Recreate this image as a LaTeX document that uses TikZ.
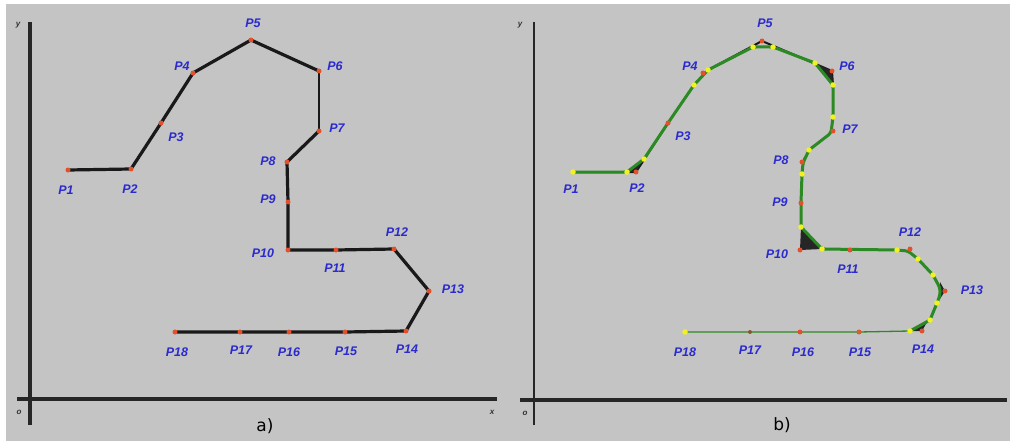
\documentclass[tikz,border=0pt]{standalone}
\usepackage{fontspec}
\newfontfamily\labfont{Liberation Sans}
\newfontfamily\capfont{DejaVu Sans}
\definecolor{bggray}{HTML}{C4C4C4}
\definecolor{labblue}{HTML}{2A2ACF}
\definecolor{ptred}{HTML}{E2502E}
\definecolor{curvegreen}{HTML}{2C8A24}
\definecolor{ptyellow}{HTML}{F2F222}
\tikzset{
  lab/.style={text=labblue,font=\labfont\bfseries\itshape\fontsize{12.5}{12.5}\selectfont,inner sep=0pt},
  axlab/.style={text=black!80,font=\labfont\bfseries\itshape\fontsize{8}{8}\selectfont,inner sep=0pt},
  caption/.style={font=\capfont\fontsize{17}{17}\selectfont,inner sep=0pt},
  axis/.style={line width=3.2pt,black!85},
  thinaxis/.style={line width=1.8pt,black!85},
  poly/.style={line width=3.2pt,black!90,line join=round},
  thinpoly/.style={line width=1.8pt,black!90},
  greencurve/.style={line width=3pt,curvegreen,rounded corners=3pt,line join=round},
  thingreen/.style={line width=1.3pt,curvegreen},
  rdot/.style={circle,fill=ptred,inner sep=0pt,minimum size=5pt},
  ydot/.style={circle,fill=ptyellow,inner sep=0pt,minimum size=5.5pt}
}
\begin{document}
\begin{tikzpicture}[x=1pt,y=-1pt]
\useasboundingbox (0,0) rectangle (1010,444);
\fill[white] (0,0) rectangle (1010,444);
\fill[bggray] (6,4) rectangle (1010,441);

% ---------------- panel a ----------------
\coordinate (ay0) at (30,425); \coordinate (ay1) at (30,22);
\coordinate (ax0) at (17,399); \coordinate (ax1) at (497,399);
\draw[axis] (ay0) -- (ay1);
\draw[axis] (ax0) -- (ax1);
\node[axlab] (aylab) at (18,25) {y};
\node[axlab] (axlab) at (492,412) {x};
\node[axlab] (aolab) at (19,412) {o};
\node[caption] (capa) at (265,426) {a)};

\coordinate (a1) at (68,170);
\coordinate (a2) at (131,169);
\coordinate (a3) at (161,123);
\coordinate (a4) at (193,73);
\coordinate (a5) at (251,40);
\coordinate (a6) at (319,71);
\coordinate (a7) at (319,131);
\coordinate (a8) at (287,162);
\coordinate (a9) at (288,202);
\coordinate (a10) at (288,250);
\coordinate (a11) at (336,250);
\coordinate (a12) at (394,249);
\coordinate (a13) at (429,291);
\coordinate (a14) at (406,331);
\coordinate (a15) at (345,332);
\coordinate (a16) at (289,332);
\coordinate (a17) at (240,332);
\coordinate (a18) at (175,332);

\draw[poly] (a1) -- (a2) -- (a3) -- (a4) -- (a5) -- (a6);
\draw[thinpoly] (a6) -- (a7);
\draw[poly] (a7) -- (a8) -- (a9) -- (a10) -- (a11) -- (a12) -- (a13) -- (a14) -- (a15) -- (a16) -- (a17) -- (a18);
\foreach \i in {1,...,18} {\node[rdot] (ad\i) at (a\i) {};}

\node[lab] (la1) at (66,190) {P1};
\node[lab] (la2) at (130,189) {P2};
\node[lab] (la3) at (176,137) {P3};
\node[lab] (la4) at (182,66) {P4};
\node[lab] (la5) at (253,23) {P5};
\node[lab] (la6) at (335,66) {P6};
\node[lab] (la7) at (337,128) {P7};
\node[lab] (la8) at (268,161) {P8};
\node[lab] (la9) at (268,199) {P9};
\node[lab] (la10) at (263,253) {P10};
\node[lab] (la11) at (335,268) {P11};
\node[lab] (la12) at (397,232) {P12};
\node[lab] (la13) at (453,289) {P13};
\node[lab] (la14) at (407,349) {P14};
\node[lab] (la15) at (346,351) {P15};
\node[lab] (la16) at (289,352) {P16};
\node[lab] (la17) at (241,350) {P17};
\node[lab] (la18) at (177,352) {P18};

% ---------------- panel b ----------------
\coordinate (by0) at (534,425); \coordinate (by1) at (534,22);
\coordinate (bx0) at (520,400); \coordinate (bx1) at (1007,400);
\draw[thinaxis] (by0) -- (by1);
\draw[axis] (bx0) -- (bx1);
\node[axlab] (bylab) at (520,25) {y};
\node[axlab] (bolab) at (525,413) {o};
\node[caption] (capb) at (782,425) {b)};

\coordinate (b1) at (573,172);
\coordinate (b2) at (636,172);
\coordinate (b3) at (668,123);
\coordinate (b4) at (703,73);
\coordinate (b5) at (762,41);
\coordinate (b6) at (832,71);
\coordinate (b7) at (833,131);
\coordinate (b8) at (802,162);
\coordinate (b9) at (801,203);
\coordinate (b10) at (800,250);
\coordinate (b11) at (850,250);
\coordinate (b12) at (910,249);
\coordinate (b13) at (945,291);
\coordinate (b14) at (922,331);
\coordinate (b15) at (859,332);
\coordinate (b16) at (800,332);
\coordinate (b17) at (750,332);
\coordinate (b18) at (685,332);

% yellow (smoothing) points
\coordinate (y1) at (573,172);
\coordinate (y2) at (627,172);
\coordinate (y3) at (644,159);
\coordinate (y4) at (694,85);
\coordinate (y5) at (708,70);
\coordinate (y6) at (753,47);
\coordinate (y7) at (773,47);
\coordinate (y8) at (815,63);
\coordinate (y9) at (833,85);
\coordinate (y10) at (833,117);
\coordinate (y11) at (809,150);
\coordinate (y12) at (802,174);
\coordinate (y13) at (801,227);
\coordinate (y14) at (822,249);
\coordinate (y15) at (897,250);
\coordinate (y16) at (918,259);
\coordinate (y17) at (933,275);
\coordinate (y18) at (937,303);
\coordinate (y19) at (930,320);
\coordinate (y20) at (910,331);
\coordinate (y21) at (685,332);

% original polygon beneath (only visible at the corners)
\draw[poly,line width=2pt] (b1) -- (b2) -- (b3);
\draw[poly,line width=2pt] (y5) -- (b5) -- (b6) -- (y9);
\fill[black!85] (y13) -- (b10) -- (y14) -- cycle;
\fill[black!85] (y2) -- (b2) -- (y3) -- cycle;
\fill[black!85] (940,282) -- (b13) -- (940,299) -- cycle;
\fill[black!85] (y8) -- (b6) -- (y9) -- cycle;
\fill[black!85] (y20) -- (b14) -- (927,322) -- cycle;
\fill[black!85] (804,157) -- (b8) -- (802,168) -- cycle;

% smoothed green curve
\draw[greencurve] (y1) -- (y2) -- (y3) -- (b3) -- (y4) -- (y5) -- (y6) -- (y7) -- (y8) -- (y9) -- (y10) -- (831,133) -- (y11) -- (803,163) -- (y12) -- (b9) -- (y13) -- (y14) -- (y15)
  -- (908,251) -- (y16) -- (y17) -- (940,288) -- (940,295) -- (y18) -- (y19) -- (y20);
\draw[thingreen] (y20) -- (b15) -- (b16) -- (b17) -- (y21);

\foreach \i in {2,...,16} {\node[rdot] (bd\i) at (b\i) {};}
\foreach \i in {1,...,21} {\node[ydot] (yd\i) at (y\i) {};}
\node[rdot,fill=brown!70!black,minimum size=4pt] (bd17) at (b17) {};
\node[rdot,fill=brown!80!red,minimum size=4pt] (bd15x) at (b15) {};

\node[lab] (lb1) at (571,189) {P1};
\node[lab] (lb2) at (637,188) {P2};
\node[lab] (lb3) at (683,136) {P3};
\node[lab] (lb4) at (690,66) {P4};
\node[lab] (lb5) at (765,23) {P5};
\node[lab] (lb6) at (847,66) {P6};
\node[lab] (lb7) at (850,129) {P7};
\node[lab] (lb8) at (781,160) {P8};
\node[lab] (lb9) at (780,202) {P9};
\node[lab] (lb10) at (777,254) {P10};
\node[lab] (lb11) at (848,269) {P11};
\node[lab] (lb12) at (910,232) {P12};
\node[lab] (lb13) at (972,290) {P13};
\node[lab] (lb14) at (923,349) {P14};
\node[lab] (lb15) at (860,352) {P15};
\node[lab] (lb16) at (803,352) {P16};
\node[lab] (lb17) at (750,350) {P17};
\node[lab] (lb18) at (685,352) {P18};
\end{tikzpicture}
\end{document}
